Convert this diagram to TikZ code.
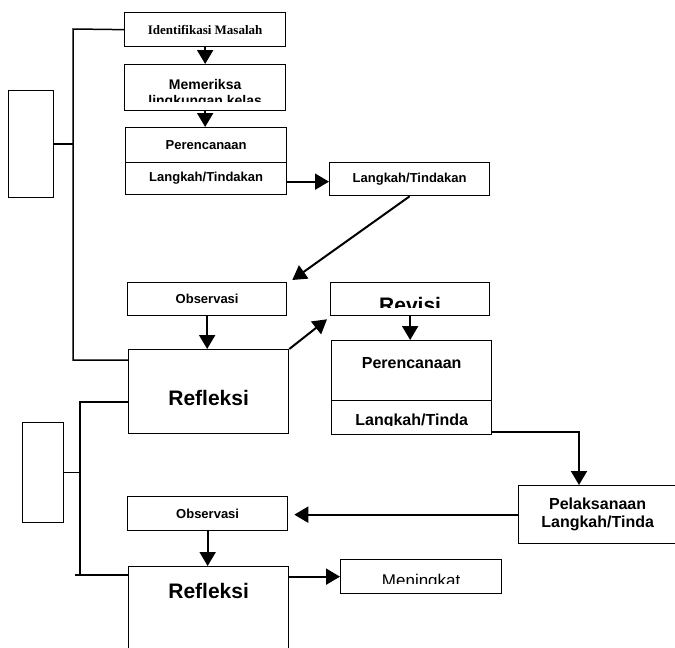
\documentclass[tikz,border=0pt]{standalone}
\usepackage{fontspec}
\setmainfont{Liberation Sans}
\newfontfamily\hurufserif{Liberation Serif}
\usetikzlibrary{arrows.meta,calc,positioning}

\begin{document}
\begin{tikzpicture}[x=1pt, y=-1pt,
    kotak/.style={draw, line width=1.3pt, anchor=north west, inner sep=0pt,
        font=\bfseries\fontsize{13}{15}\selectfont},
    isi/.style={inner sep=0pt, anchor=base},
    panah/.style={line width=2pt, -{Triangle[length=14pt,width=16pt]}},
    garis/.style={line width=1.5pt}]
\useasboundingbox (0,0) rectangle (675,648);
\clip (0,0) rectangle (675,648);

    \node [kotak, minimum width=161pt, minimum height=34pt,
        font=\hurufserif\bfseries\fontsize{13}{15}\selectfont] (masalah) at (124,12) {Identifikasi Masalah};
    \node [kotak, minimum width=161pt, minimum height=46pt] (periksa) at (124,64) {};
    \node [kotak, minimum width=161pt, minimum height=35pt] (rencana1) at (125,127) {Perencanaan};
    \node [kotak, minimum width=161pt, minimum height=32pt] (langkah1) at (125,162) {Langkah/Tindakan};
    \node [kotak, minimum width=160pt, minimum height=33pt] (langkah2) at (329,162) {Langkah/Tindakan};
    \node [kotak, minimum width=159pt, minimum height=33pt] (obs1) at (127,282) {Observasi};
    \node [kotak, minimum width=159pt, minimum height=33pt] (revisi) at (330,282) {};
    \node [kotak, minimum width=160pt, minimum height=84pt] (refleksi1) at (128,349) {};
    \node [kotak, minimum width=160pt, minimum height=60pt] (rencana2) at (331,340) {};
    \node [kotak, minimum width=160pt, minimum height=34pt] (langkah3) at (331,400) {};
    \node [kotak, minimum width=158pt, minimum height=58pt, align=center,
        font=\bfseries\fontsize{16}{18}\selectfont] (pelaksanaan) at (518,485) {Pelaksanaan\\Langkah/Tinda};
    \node [kotak, minimum width=160pt, minimum height=34pt] (obs2) at (127,496) {Observasi};
    \node [kotak, minimum width=160pt, minimum height=100pt] (refleksi2) at (128,566) {};
    \node [kotak, minimum width=161pt, minimum height=34pt] (meningkat) at (340,559) {};
    \node [kotak, minimum width=45pt, minimum height=107pt] (siklus1) at (8,90) {};
    \node [kotak, minimum width=41pt, minimum height=100pt] (siklus2) at (22,422) {};

    \node [isi, font=\bfseries\fontsize{21}{25}\selectfont] (teksrefleksi1) at ($(refleksi1.north)+(0,56)$) {Refleksi};
    \node [isi, font=\bfseries\fontsize{16}{18}\selectfont] (teksrencana2) at ($(rencana2.north)+(0,28)$) {Perencanaan};
    \node [isi, font=\bfseries\fontsize{21}{25}\selectfont] (teksrefleksi2) at ($(refleksi2.north)+(0,32)$) {Refleksi};

    \begin{scope}
        \clip ($(periksa.north west)+(2,2)$) rectangle ($(periksa.south east)+(-2,-10)$);
        \node [inner sep=0pt, align=center, font=\bfseries\fontsize{14}{16}\selectfont] (teksperiksa)
            at ($(periksa.north)+(0,29.5)$) {Memeriksa\\lingkungan kelas};
    \end{scope}
    \begin{scope}
        \clip ($(revisi.north west)+(2,2)$) rectangle ($(revisi.south east)+(-2,-9)$);
        \node [isi, font=\bfseries\fontsize{21}{25}\selectfont] (teksrevisi) at ($(revisi.north)+(0,30)$) {Revisi};
    \end{scope}
    \begin{scope}
        \clip ($(langkah3.north west)+(2,2)$) rectangle ($(langkah3.south east)+(-2,-10)$);
        \node [isi, font=\bfseries\fontsize{16}{18}\selectfont] (tekslangkah3) at ($(langkah3.north)+(0,25.5)$) {Langkah/Tinda};
    \end{scope}
    \begin{scope}
        \clip ($(meningkat.north west)+(2,2)$) rectangle ($(meningkat.south east)+(-2,-11)$);
        \node [isi, font=\fontsize{17}{20}\selectfont] (teksmeningkat) at ($(meningkat.north)+(0,27)$) {Meningkat};
    \end{scope}

    \draw [panah] (masalah.south) -- (periksa.north);
    \draw [panah] (periksa.south) -- (periksa.south |- rencana1.north);
    \draw [panah] ($(langkah1.east)+(0,3)$) -- ($(langkah1.east -| langkah2.west)+(0,3)$);
    \draw [panah] (langkah2.south) -- ($(obs1.north east)+(5,-2)$);
    \draw [panah] (obs1.south) -- (obs1.south |- refleksi1.north);
    \draw [panah] (refleksi1.north east) -- ($(revisi.south west)+(-3,3)$);
    \draw [panah] (revisi.south) -- (revisi.south |- rencana2.north);
    \draw [panah] ($(langkah3.south east)+(0,-3)$) -| ($(pelaksanaan.north west)+(61,0)$);
    \draw [panah] (pelaksanaan.west) -- ($(pelaksanaan.west -| obs2.east)+(6,0)$);
    \draw [panah] (obs2.south) -- (obs2.south |- refleksi2.north);
    \draw [panah] (refleksi2.east |- meningkat.west) -- (meningkat.west);

    \coordinate (sudut1) at (73,29);
    \coordinate (sudut2) at (80,575);
    \draw [garis] (masalah.west) -- (sudut1) |- ($(refleksi1.north west)+(0,11)$);
    \draw [garis] (siklus1.east) -- (siklus1.east -| sudut1);
    \draw [garis] ($(refleksi1.north west)+(0,53)$) -| (sudut2);
    \draw [garis] ($(refleksi2.north west)+(0,9)$) -- ++(-53,0);
    \draw [garis] (siklus2.east) -- (siklus2.east -| sudut2);
\end{tikzpicture}
\end{document}
